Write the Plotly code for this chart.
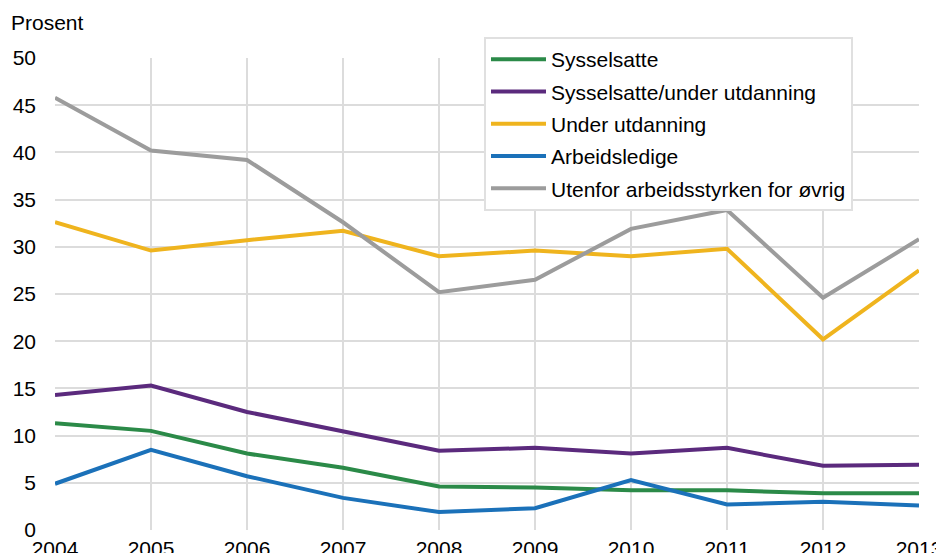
import plotly.graph_objects as go

years = [2004, 2005, 2006, 2007, 2008, 2009, 2010, 2011, 2012, 2013]
sysselsatte = [11.3, 10.5, 8.1, 6.6, 4.6, 4.5, 4.2, 4.2, 3.9, 3.9]
syss_utd = [14.3, 15.3, 12.5, 10.4, 8.4, 8.7, 8.1, 8.7, 6.8, 6.9]
under_utd = [32.6, 29.6, 30.7, 31.7, 29.0, 29.6, 29.0, 29.8, 20.2, 27.5]
arbeidsledige = [4.9, 8.5, 5.7, 3.4, 1.9, 2.3, 5.3, 2.7, 3.0, 2.6]
utenfor = [45.8, 40.2, 39.2, 32.6, 25.2, 26.5, 31.9, 33.9, 24.6, 30.8]

names = ["Sysselsatte", "Sysselsatte/under utdanning", "Under utdanning",
         "Arbeidsledige", "Utenfor arbeidsstyrken for øvrig"]
series = [sysselsatte, syss_utd, under_utd, arbeidsledige, utenfor]
colors = ["#2b8a48", "#5b2a7d", "#efb41e", "#1b71b9", "#9c9c9c"]
y_ticks = [0, 5, 10, 15, 20, 25, 30, 35, 40, 45, 50]

fig = go.Figure()
for i, (n, s, c) in enumerate(zip(names, series, colors)):
    fig.add_trace(go.Scatter(x=years, y=s, name=n, mode="lines",
                             line=dict(color=c, width=4),
                             legendgroup=f"g{i}"))

W, H = 936, 545
font = "Liberation Sans, Arial, sans-serif"
fig.update_layout(
    width=W, height=H,
    margin=dict(l=47, r=25, t=50, b=23, autoexpand=False),
    paper_bgcolor="white", plot_bgcolor="white",
    font=dict(family=font, size=21, color="#000000"),
    showlegend=True,
    legend=dict(xref="container", yref="container", x=476 / W, y=1 - 29 / H,
                xanchor="left", yanchor="top", itemwidth=55,
                bgcolor="white", bordercolor="#e0e0e0", borderwidth=2,
                font=dict(size=21), traceorder="grouped", tracegroupgap=2),
    xaxis=dict(range=[2004, 2013], tickmode="array", tickvals=years,
               ticktext=[str(y) for y in years], automargin=False,
               showgrid=True, gridcolor="#dcdcdc", gridwidth=2,
               zeroline=False, showline=False, ticks="",
               ticklabelstandoff=4, tickfont=dict(size=21)),
    yaxis=dict(range=[0, 50], tickmode="array", tickvals=y_ticks, automargin=False,
               showgrid=True, gridcolor="#dcdcdc", gridwidth=2,
               zeroline=False, showline=False, ticks="",
               ticklabelstandoff=18, tickfont=dict(size=21)),
    annotations=[dict(text="Prosent", xref="paper", yref="paper",
                      x=0, y=1, xshift=-46, yshift=22, xanchor="left", yanchor="bottom",
                      showarrow=False, font=dict(size=21))],
)
fig.write_html("out.html")
